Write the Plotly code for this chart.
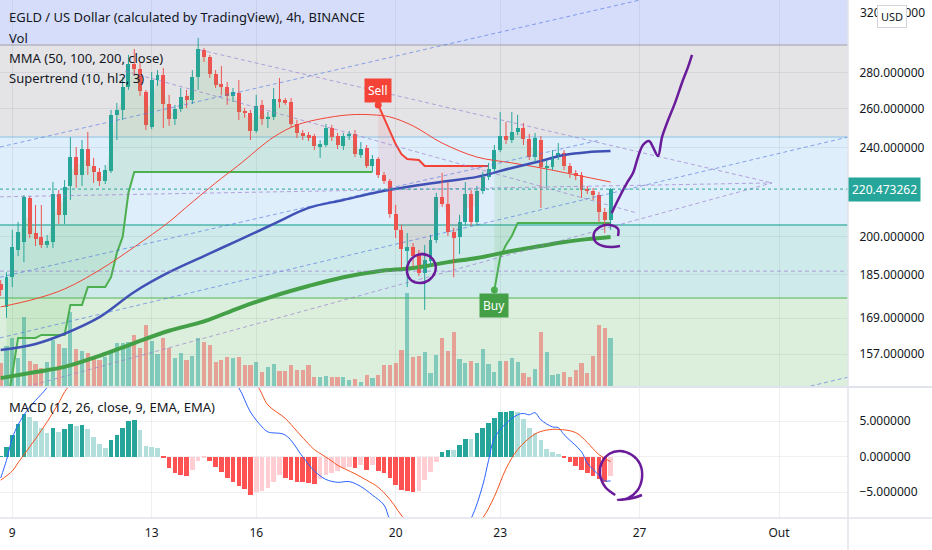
import numpy as np
import pandas as pd
import plotly.graph_objects as go

# EGLD / USD 4h bars, first (partly hidden) bar opens 2021-09-08 16:00
first_bar = "2021-09-08 16:00"

opens = [181.3, 173.0, 183.9, 194.5, 197.7, 216.5, 201.4, 199.8, 196.5, 197.7,
         218.3, 209.1, 221.9, 235.5, 227.0, 239.4, 231.2, 228.4, 224.2, 228.8,
         256.9, 259.5, 272.1, 285.2, 282.3, 269.3, 250.6, 276.0, 278.9, 262.7,
         254.7, 260.0, 267.1, 264.9, 277.7, 293.6, 289.4, 279.4, 273.8, 272.1,
         267.1, 268.8, 259.0, 257.9, 248.5, 262.2, 254.7, 255.8, 265.5, 264.9,
         263.8, 252.1, 247.5, 246.4, 245.9, 240.4, 241.4, 250.0, 245.9, 240.9,
         245.9, 247.0, 236.5, 239.9, 231.2, 234.6, 227.0, 224.2, 209.4, 202.7,
         194.1, 195.7, 192.9, 185.5, 190.1, 198.5, 217.0, 213.8, 201.9, 199.8,
         206.1, 218.3, 206.1, 219.7, 226.1, 229.8, 238.9, 245.9, 243.9, 248.0,
         250.0, 244.4, 235.5, 243.9, 230.7, 230.7, 235.5, 237.5, 231.2, 227.9,
         227.0, 220.5, 219.7, 217.9, 210.3, 206.9]
highs = [182.8, 185.8, 202.7, 206.1, 217.8, 217.4, 213.4, 213.4, 200.6, 223.7,
         220.1, 224.6, 245.4, 240.4, 243.9, 248.0, 235.1, 230.3, 231.7, 259.5,
         263.3, 277.7, 290.6, 294.2, 286.4, 270.4, 280.6, 281.7, 282.9, 267.7,
         262.2, 271.5, 270.4, 281.7, 301.0, 294.8, 290.6, 281.7, 284.0, 274.9,
         271.5, 276.0, 260.6, 259.5, 267.7, 264.9, 258.4, 271.5, 277.1, 266.0,
         266.0, 254.2, 249.0, 248.0, 247.0, 243.9, 252.1, 251.6, 247.5, 247.5,
         248.5, 249.0, 242.9, 241.4, 236.5, 235.5, 228.4, 225.1, 213.4, 204.8,
         201.4, 197.3, 194.5, 196.5, 200.6, 218.8, 227.9, 223.7, 203.5, 209.1,
         223.7, 220.1, 221.9, 228.4, 232.7, 241.4, 258.4, 253.2, 258.4, 256.9,
         252.6, 247.0, 247.5, 245.9, 234.1, 238.9, 242.4, 238.9, 232.7, 229.3,
         228.4, 221.9, 221.0, 219.2, 212.1, 221.0]
lows = [176.9, 169.1, 180.2, 192.1, 189.7, 199.3, 196.1, 195.3, 195.3, 195.3,
        205.2, 205.2, 215.6, 221.0, 221.9, 227.0, 223.3, 221.9, 222.8, 227.9,
        243.9, 254.2, 270.4, 278.9, 267.1, 249.0, 249.5, 272.6, 250.0, 251.1,
        251.6, 258.4, 260.6, 262.7, 270.4, 286.4, 277.1, 271.5, 267.7, 262.2,
        263.8, 254.2, 255.3, 243.9, 247.5, 251.6, 250.0, 254.2, 260.6, 262.2,
        250.0, 244.9, 243.9, 243.4, 238.9, 235.1, 240.4, 243.4, 239.4, 238.9,
        243.9, 235.5, 235.1, 230.3, 228.4, 225.6, 222.8, 207.8, 199.3, 187.3,
        180.2, 187.8, 184.3, 171.9, 188.2, 197.3, 212.5, 200.2, 183.9, 192.9,
        204.4, 204.4, 204.4, 218.3, 224.6, 228.4, 237.9, 241.9, 242.4, 246.4,
        241.4, 234.1, 233.1, 212.1, 221.5, 229.3, 234.1, 229.3, 225.6, 224.6,
        216.5, 218.3, 215.6, 206.1, 201.4, 202.7]
closes = [179.1, 183.9, 195.7, 201.9, 217.0, 201.0, 198.9, 196.5, 198.1, 218.3,
          209.1, 221.4, 235.5, 227.0, 239.4, 231.2, 228.4, 224.2, 229.3, 256.9,
          259.5, 272.1, 285.2, 282.3, 269.9, 251.6, 276.0, 278.9, 262.7, 254.7,
          260.0, 266.6, 264.9, 277.7, 294.2, 289.4, 279.4, 273.2, 272.1, 267.1,
          269.3, 258.4, 257.9, 248.5, 261.7, 254.7, 255.8, 265.5, 263.8, 263.3,
          252.1, 247.5, 245.9, 244.9, 240.9, 241.9, 250.0, 245.4, 241.4, 245.9,
          247.0, 237.0, 239.4, 231.2, 234.6, 227.0, 224.2, 209.4, 202.7, 194.9,
          195.7, 192.1, 185.5, 190.5, 198.5, 217.0, 213.8, 201.9, 199.3, 206.1,
          218.3, 206.1, 219.7, 226.1, 229.8, 238.9, 245.9, 243.9, 248.0, 250.0,
          244.4, 235.5, 244.9, 230.7, 231.2, 235.5, 237.5, 231.2, 227.9, 226.5,
          220.1, 219.7, 217.9, 210.3, 206.9, 220.473262]
volume_k = [23, 40, 48, 28, 70, 25, 22, 18, 24, 46,
            42, 38, 75, 37, 35, 33, 28, 26, 29, 36,
            43, 43, 44, 52, 38, 62, 45, 32, 48, 38,
            28, 33, 26, 30, 48, 44, 41, 24, 26, 29,
            28, 29, 21, 21, 24, 14, 19, 22, 15, 15,
            21, 16, 16, 21, 9, 9, 10, 9, 9, 9,
            6, 7, 4, 11, 8, 11, 21, 21, 23, 36,
            94, 29, 30, 34, 13, 31, 49, 35, 55, 27,
            23, 25, 23, 37, 22, 14, 25, 25, 28, 24,
            13, 9, 17, 55, 34, 11, 12, 14, 9, 16,
            23, 13, 30, 62, 59, 48]

# MACD (12, 26, 9)
macd_hist = [0.1, 1.4, 3.1, 4.55, 5.96, 5.63, 5.0, 4.0, 3.3, 4.0,
             3.5, 3.85, 4.55, 4.3, 4.45, 3.85, 2.8, 1.75, 1.2, 2.35,
             3.05, 4.0, 5.0, 5.2, 3.75, 1.5, 1.35, 1.27, -0.23, -1.65,
             -2.35, -2.6, -2.68, -1.88, -0.56, -0.14, -0.6, -1.4, -2.2, -2.96,
             -3.52, -4.13, -4.55, -5.4, -4.93, -4.83, -4.46, -3.62, -2.58, -2.96,
             -3.3, -3.52, -3.62, -3.66, -3.8, -3.1, -2.58, -2.35, -2.0, -1.65,
             -1.4, -1.65, -1.17, -1.88, -1.17, -2.0, -2.35, -2.96, -4.0, -4.7,
             -4.83, -4.9, -4.83, -3.3, -2.1, -0.8, 0.7, 0.94, 0.9, 1.64,
             2.5, 2.45, 3.3, 4.1, 4.7, 5.5, 6.25, 6.34, 6.4, 6.25,
             5.3, 4.1, 3.4, 2.35, 1.1, 0.7, 0.38, -0.14, -0.8, -1.27,
             -1.88, -2.35, -2.68, -3.2, -3.52, -2.68]
macd_idx = [0, 1, 2, 3, 5, 7, 9, 14, 22, 30, 36, 39, 41, 43, 45, 46, 49, 52, 54, 56,
            58, 60, 62, 64, 66, 67, 70, 74, 78, 81, 83, 84, 85, 87, 89, 90, 91, 92, 93,
            95, 96, 97, 100, 101, 103, 104, 105]
macd_line = [-3.0, -0.5, 2.6, 4.5, 7.0, 8.8, 10.5, 12.5, 14.5, 15.0, 13.5, 11.5, 9.7, 6.3,
             4.2, 3.5, 3.05, 0.0, -2.0, -3.2, -3.6, -3.5, -4.2, -5.4, -6.8, -8.8, -12.0,
             -14.0, -12.5, -8.7, -4.0, -0.5, 2.6, 4.7, 5.9, 6.1, 5.9, 6.2, 5.2, 4.2, 4.1,
             3.1, 0.7, -0.9, -2.6, -3.4, -3.4]
signal_idx = [0, 2, 3, 5, 7, 9, 10, 12, 20, 30, 38, 44, 46, 49, 51, 54, 55, 57, 58, 61,
              63, 65, 67, 70, 75, 80, 83, 85, 87, 89, 92, 94, 96, 99, 101, 103, 105]
signal_line = [-3.3, -2.0, -0.85, 1.4, 3.7, 6.2, 7.6, 10.1, 13.0, 14.5, 13.0, 10.1, 7.3,
               5.4, 3.6, 1.0, 0.47, -0.6, -1.2, -2.4, -3.3, -4.3, -6.0, -9.2, -12.0,
               -11.0, -8.6, -5.6, -1.7, 1.0, 3.2, 3.75, 3.85, 3.4, 2.0, 0.3, -0.7]

# MMA (50, 100, 200) read at some bars
mma50_idx = [0, 6, 11, 17, 23, 29, 32, 37, 41, 47, 51, 55, 60, 64, 67, 71, 76, 82, 88, 93, 99, 105]
mma50 = [173.0, 175.9, 179.5, 186.6, 195.7, 206.1, 212.5, 223.3, 231.7, 245.4, 251.6,
         254.7, 256.9, 256.9, 255.8, 251.1, 242.4, 235.5, 232.7, 230.3, 227.0, 223.7]
mma_idx = [0, 6, 11, 17, 23, 29, 35, 41, 47, 53, 59, 65, 71, 77, 82, 88, 93, 97, 101, 105]
mma100 = [158.3, 160.3, 163.7, 169.4, 178.4, 185.8, 192.1, 198.5, 205.2, 212.1,
          215.6, 219.2, 221.9, 224.2, 226.1, 230.3, 233.6, 236.5, 237.9, 238.4]
mma200 = [149.4, 151.3, 152.9, 156.4, 160.6, 164.7, 167.9, 172.6, 176.9, 180.6,
          183.9, 186.2, 187.4, 189.7, 191.3, 194.1, 196.1, 197.7, 198.9, 199.8]

# Supertrend (10, hl2, 3) corner points
st_up1_idx = [1, 2, 3, 6, 7, 11, 12, 14, 15, 18, 19, 20, 21, 22, 23, 64]
st_up1 = [140.0, 151.3, 162.3, 162.3, 163.3, 163.3, 173.7, 173.7, 180.2, 180.2,
          183.9, 193.3, 199.8, 218.8, 228.4, 228.4]
st_down_idx = [65, 66, 67, 68, 69, 70, 72, 73, 84]
st_down = [262.2, 255.3, 248.0, 241.9, 236.9, 234.6, 234.1, 231.2, 231.2]
st_up2_idx = [85, 86, 87, 88, 89, 105]
st_up2 = [179.1, 191.7, 196.5, 200.2, 205.6, 205.6]

# horizontal zones drawn on the chart (price bounds)
zone_bounds = [400.0, 296.6, 245.4, 204.8, 176.2, 100.0]
level_186 = 186.2

# trend lines: (days after 9 Sep, price) -> (days, price)
blue_lines = [(-0.353, 240.4, 18.011, 325.4),
              (-0.353, 162.3, 23.980, 245.4),
              (22.315, 145.5, 23.980, 149.7),
              (-0.353, 183.9, 16.864, 243.9)]
lavender_lines = [(5.386, 293.6, 21.799, 223.3),
                  (3.234, 281.1, 17.925, 209.9),
                  (-0.353, 217.0, 21.799, 223.3),
                  (-0.353, 144.6, 21.799, 223.3)]

# hand drawn brush strokes (days after 9 Sep, price / macd value)
arrow_days = [17.199, 17.380, 17.638, 17.810, 17.954, 18.097, 18.269, 18.384,
              18.528, 18.643, 18.786, 19.016, 19.245, 19.389, 19.504]
arrow_price = [209.8, 215.6, 223.3, 227.9, 235.5, 241.4, 243.4, 240.4,
               236.0, 245.4, 252.6, 263.3, 276.0, 283.4, 290.6]
loop1_days = [11.699, 11.957, 12.129, 12.129, 11.957, 11.699, 11.441, 11.326,
              11.383, 11.555, 11.814, 12.014]
loop1_price = [192.9, 192.1, 189.3, 185.8, 182.8, 181.7, 182.8, 185.8,
               189.7, 192.1, 192.9, 191.7]
loop2_days = [17.380, 17.380, 17.151, 16.864, 16.692, 16.721, 16.950, 17.208, 17.438]
loop2_price = [200.2, 203.1, 204.8, 204.0, 201.4, 198.1, 196.1, 195.7, 196.1]
macd_loop_days = [17.301, 17.014, 16.864, 16.921, 17.122, 17.438, 17.782, 18.011,
                  18.069, 17.925, 17.667, 17.380, 17.810, 18.069]
macd_loop_vals = [-5.39, -4.27, -2.44, -0.75, 0.38, 0.80, 0.24, -1.03,
                  -3.0, -4.83, -5.82, -6.10, -5.82, -5.39]

price_ticks = [157, 169, 185, 200, 240, 260, 280]
top_price_label = 320
macd_ticks = [-5, 0, 5]
day_ticks = ["2021-09-09", "2021-09-13", "2021-09-16", "2021-09-20",
             "2021-09-23", "2021-09-27", "2021-10-01"]
day_labels = ["9", "13", "16", "20", "23", "27", "Out"]

# ---------------------------------------------------------------
FONT = "Noto Sans"
TXT = "#131722"
UP, DOWN = "#26a69a", "#ef5350"
GRID = "rgba(42,46,57,0.07)"
PLOT_W, PLOT_H = 848, 518

times = pd.date_range(first_bar, periods=len(opens), freq="4h")
day0 = pd.Timestamp("2021-09-09")


def at_day(days):
    return [day0 + pd.Timedelta(days=d) for d in days]


lg = np.log10
BAR_MS = 4 * 3600 * 1000
is_up = [c >= o for o, c in zip(opens, closes)]
body_mid = [(o + c) / 2 for o, c in zip(opens, closes)]

fig = go.Figure()

# volume under everything (base axis of the price pane)
fig.add_trace(go.Bar(x=times, y=volume_k, width=BAR_MS * 0.72,
                     marker=dict(color=["rgba(38,166,154,0.5)" if u else "rgba(239,83,80,0.5)" for u in is_up],
                                 line_width=0),
                     xaxis="x", yaxis="y"))

# supertrend with its fill toward the candle bodies
for idx, vals, col, fillc in [(st_up1_idx, st_up1, "#4caf50", "rgba(76,175,80,0.13)"),
                              (st_down_idx, st_down, "#f44336", "rgba(244,67,54,0.10)"),
                              (st_up2_idx, st_up2, "#4caf50", "rgba(76,175,80,0.13)")]:
    rng = range(idx[0], idx[-1] + 1)
    fig.add_trace(go.Scatter(x=times[list(rng)], y=[body_mid[i] for i in rng], mode="lines",
                             line=dict(width=0), xaxis="x", yaxis="y3"))
    fig.add_trace(go.Scatter(x=times[idx], y=vals, mode="lines", line=dict(color=col, width=2),
                             fill="tonexty", fillcolor=fillc, xaxis="x", yaxis="y3"))

# moving averages
fig.add_trace(go.Scatter(x=times[mma50_idx], y=mma50, mode="lines", line_shape="spline",
                         line=dict(color="#f44336", width=1), xaxis="x", yaxis="y3"))
fig.add_trace(go.Scatter(x=times[mma_idx], y=mma100, mode="lines", line_shape="spline",
                         line=dict(color="#3f51b5", width=2.5), xaxis="x", yaxis="y3"))
fig.add_trace(go.Scatter(x=times[mma_idx], y=mma200, mode="lines", line_shape="spline",
                         line=dict(color="#43a047", width=4), xaxis="x", yaxis="y3"))

# candles: wicks as lines, bodies as floating bars
for want_up, col in [(True, UP), (False, DOWN)]:
    wx, wy = [], []
    for t, h, l, u in zip(times, highs, lows, is_up):
        if u == want_up:
            wx += [t, t, None]
            wy += [l, h, None]
    fig.add_trace(go.Scatter(x=wx, y=wy, mode="lines", line=dict(color=col, width=1),
                             xaxis="x", yaxis="y3"))
for want_up, col in [(True, UP), (False, DOWN)]:
    sel = [i for i, u in enumerate(is_up) if u == want_up]
    fig.add_trace(go.Bar(x=times[sel],
                         base=[min(opens[i], closes[i]) for i in sel],
                         y=[max(abs(closes[i] - opens[i]), 0.3) for i in sel],
                         width=BAR_MS * 0.68, marker=dict(color=col, line_width=0),
                         xaxis="x", yaxis="y3"))

# trend lines
for lines, col in [(blue_lines, "rgba(70,110,225,0.6)"), (lavender_lines, "rgba(150,120,205,0.65)")]:
    for d0, p0, d1, p1 in lines:
        fig.add_trace(go.Scatter(x=at_day([d0, d1]), y=[p0, p1], mode="lines",
                                 line=dict(color=col, width=1, dash="4px,3px"), xaxis="x", yaxis="y3"))
fig.add_trace(go.Scatter(x=at_day([-0.353, 23.98]), y=[level_186, level_186], mode="lines",
                         line=dict(color="rgba(150,120,205,0.65)", width=1, dash="4px,3px"),
                         xaxis="x", yaxis="y3"))

# supertrend signal dots
fig.add_trace(go.Scatter(x=[times[st_down_idx[0]], times[st_up2_idx[0]]], y=[st_down[0], st_up2[0]],
                         mode="markers", marker=dict(size=7, color=["#f44336", "#4caf50"]),
                         xaxis="x", yaxis="y3"))

# purple brush
PURPLE = "#6a1b9a"
for dd, pp in [(arrow_days, arrow_price), (loop1_days, loop1_price), (loop2_days, loop2_price)]:
    fig.add_trace(go.Scatter(x=at_day(dd), y=pp, mode="lines", line_shape="spline",
                             line=dict(color=PURPLE, width=2.5), xaxis="x", yaxis="y3"))

# MACD pane
hist_cols = []
for i, h in enumerate(macd_hist):
    prev = macd_hist[i - 1] if i else h
    if h >= 0:
        hist_cols.append("#26a69a" if h >= prev else "#b2dfdb")
    else:
        hist_cols.append("#ff5252" if h <= prev else "#ffcdd2")
fig.add_trace(go.Bar(x=times, y=macd_hist, width=BAR_MS * 0.8,
                     marker=dict(color=hist_cols, line_width=0), xaxis="x2", yaxis="y2"))
fig.add_trace(go.Scatter(x=times[macd_idx], y=macd_line, mode="lines", line_shape="spline",
                         line=dict(color="#2962ff", width=1), xaxis="x2", yaxis="y2"))
fig.add_trace(go.Scatter(x=times[signal_idx], y=signal_line, mode="lines", line_shape="spline",
                         line=dict(color="#f4511e", width=1), xaxis="x2", yaxis="y2"))
fig.add_trace(go.Scatter(x=at_day(macd_loop_days), y=macd_loop_vals, mode="lines", line_shape="spline",
                         line=dict(color=PURPLE, width=2.5), xaxis="x2", yaxis="y2"))

# zones (shape coordinates in plain prices on the log axis)
zone_cols = ["#d6ddfb", "#e4e4e7", "#dfeefb", "#cfeaea", "#dcefdc"]
edge_cols = ["#b4b4be", "#a9cfe6", "#4db6ac", "#81c784"]
shapes = []
for k, col in enumerate(zone_cols):
    shapes.append(dict(type="rect", xref="paper", yref="y3", x0=0, x1=1,
                       y0=zone_bounds[k + 1], y1=zone_bounds[k],
                       fillcolor=col, line_width=0, layer="below"))
for k, col in enumerate(edge_cols):
    shapes.append(dict(type="line", xref="paper", yref="y3", x0=0, x1=1,
                       y0=zone_bounds[k + 1], y1=zone_bounds[k + 1],
                       line=dict(color=col, width=1.5), layer="below"))
shapes.append(dict(type="line", xref="paper", yref="y3", x0=0, x1=1,
                   y0=closes[-1], y1=closes[-1],
                   line=dict(color=UP, width=1, dash="dot")))
# pane frames
sep = 1 - 387 / PLOT_H
shapes += [dict(type="line", xref="paper", yref="paper", x0=0, x1=932 / PLOT_W, y0=sep, y1=sep,
                line=dict(color="#e0e3eb", width=2)),
           dict(type="line", xref="paper", yref="paper", x0=0, x1=932 / PLOT_W, y0=0, y1=0,
                line=dict(color="#e0e3eb", width=1.5)),
           dict(type="line", xref="paper", yref="paper", x0=1, x1=1, y0=-32 / PLOT_H, y1=1,
                line=dict(color="#e0e3eb", width=1.5))]


def px_note(text, x, y, size=13, **kw):
    return dict(text=text, xref="paper", yref="paper", x=x / PLOT_W, y=1 - y / PLOT_H,
                xanchor="left", yanchor="middle", showarrow=False,
                font=dict(family=FONT, size=size, color=TXT), **kw)


notes = [px_note("EGLD / US Dollar (calculated by TradingView), 4h, BINANCE", 7, 17),
         px_note("Vol", 7, 38),
         px_note("MMA (50, 100, 200, close)", 7, 58),
         px_note("Supertrend (10, hl2, 3)", 7, 78),
         px_note("MACD (12, 26, close, 9, EMA, EMA)", 7, 407),
         px_note(f"{top_price_label:.6f}", 858, 13, size=12),
         dict(text="USD", xref="paper", yref="paper", x=892 / PLOT_W, y=1 - 16 / PLOT_H,
              xanchor="center", yanchor="middle",
              showarrow=False, bgcolor="white", bordercolor="#d1d4dc", borderwidth=1, borderpad=3,
              font=dict(family=FONT, size=11, color=TXT)),
         dict(text=f"{closes[-1]:.6f}", xref="paper", yref="y3", x=1, y=lg(closes[-1]),
              xanchor="left", yanchor="middle", showarrow=False, bgcolor=UP, borderpad=3,
              font=dict(family=FONT, size=12, color="white")),
         dict(text="Sell", x=times[st_down_idx[0]], y=lg(st_down[0]), xref="x", yref="y3",
              showarrow=True, arrowhead=0, arrowwidth=1.5, arrowcolor="#f44336", ax=0, ay=-14,
              bgcolor="#f44336", borderpad=3, font=dict(family=FONT, size=12, color="white")),
         dict(text="Buy", x=times[st_up2_idx[0]], y=lg(st_up2[0]), xref="x", yref="y3",
              showarrow=True, arrowhead=0, arrowwidth=1.5, arrowcolor="#43a047", ax=0, ay=15,
              bgcolor="#43a047", borderpad=3, font=dict(family=FONT, size=12, color="white"))]

x_range = ["2021-09-08 15:32", "2021-10-02 23:31"]
main_dom = [1 - 386 / PLOT_H, 1]
macd_dom = [0, 1 - 388 / PLOT_H]

fig.update_layout(
    width=932, height=550, margin=dict(l=0, r=932 - PLOT_W, t=0, b=550 - PLOT_H),
    paper_bgcolor="white", plot_bgcolor="rgba(0,0,0,0)", showlegend=False,
    barmode="overlay", bargap=0,
    font=dict(family=FONT, size=12, color=TXT),
    xaxis=dict(domain=[0, 1], anchor="y", type="date", range=x_range, tickvals=day_ticks,
               showticklabels=False, showgrid=True, gridcolor=GRID, zeroline=False,
               fixedrange=True),
    xaxis2=dict(domain=[0, 1], anchor="y2", type="date", range=x_range, matches="x",
                tickvals=day_ticks, ticktext=day_labels, showgrid=True, gridcolor=GRID,
                zeroline=False, ticks="outside", ticklen=4, tickcolor="white",
                tickfont=dict(family=FONT, size=12, color=TXT)),
    yaxis=dict(domain=main_dom, anchor="x", range=[0, 390], visible=False, fixedrange=True),
    yaxis3=dict(overlaying="y", anchor="x", side="right", type="log",
                range=[lg(147.0), lg(325.4)], tickvals=price_ticks,
                ticktext=[f"{v:.6f}" for v in price_ticks], showgrid=True, gridcolor=GRID,
                zeroline=False, ticks="outside", ticklen=8, tickcolor="rgba(0,0,0,0)",
                tickfont=dict(family=FONT, size=12, color=TXT)),
    yaxis2=dict(domain=macd_dom, anchor="x2", side="right", range=[-8.63, 9.68],
                tickvals=macd_ticks, ticktext=["\u22125.000000", "0.000000", "5.000000"],
                showgrid=True, gridcolor=GRID, zeroline=False, ticks="outside", ticklen=8,
                tickcolor="rgba(0,0,0,0)", tickfont=dict(family=FONT, size=12, color=TXT)),
    shapes=shapes, annotations=notes,
)

# the page body keeps its default 8px margin otherwise
fig.write_html("out.html", config={"displayModeBar": False},
               post_script="document.body.style.margin='0';")
